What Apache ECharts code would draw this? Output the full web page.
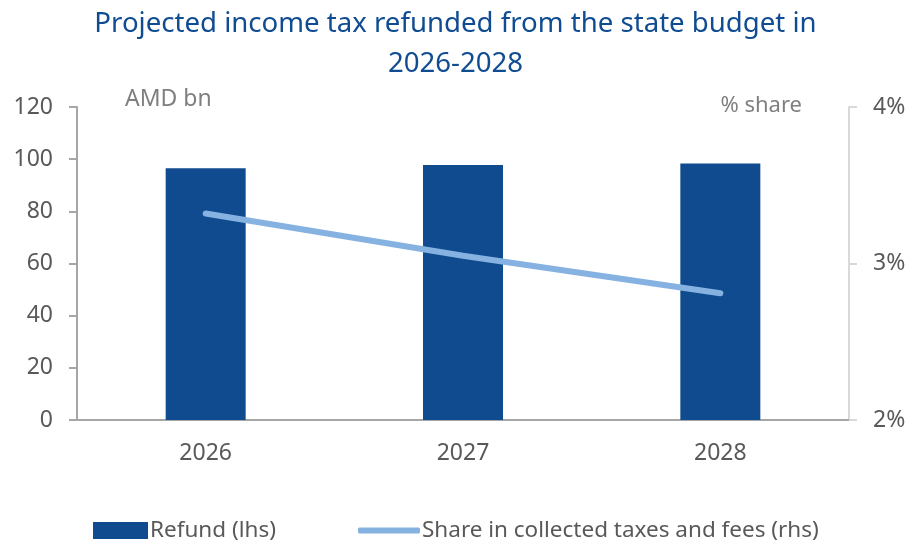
<!DOCTYPE html>
<html><head><meta charset="utf-8">
<script src="https://cdn.jsdelivr.net/npm/echarts@6/dist/echarts.min.js"></script>
<style>html,body{margin:0;padding:0;background:#fff}#c{width:911px;height:544px}</style>
</head><body><div id="c"></div>
<script>
const categories = ['2026', '2027', '2028'];
const refund = [96.5, 97.8, 98.3];
const share = [3.32, 3.05, 2.81];
const leftTicks = [0, 20, 40, 60, 80, 100, 120];
const rightTicks = ['2%', '3%', '4%'];
const titleLines = ['Projected income tax refunded from the state budget in', '2026-2028'];

const FONT = 'Noto Sans';
const GRAY = '#595959';
const TITLE_STYLE = { fontFamily: FONT, fontSize: 27.6, fontWeight: 'normal', color: '#104C92' };
const chart = echarts.init(document.getElementById('c'));
chart.setOption({
  animation: false,
  title: [
    { text: titleLines[0], left: 'center', top: 5, textStyle: TITLE_STYLE },
    { text: titleLines[1], left: 'center', top: 45, textStyle: TITLE_STYLE }
  ],
  legend: [
    { data: [{ name: 'Refund (lhs)', icon: 'rect' }], left: 88, top: 514, itemWidth: 55, itemHeight: 17, itemGap: 0,
      textStyle: { fontFamily: FONT, fontSize: 22.5, color: GRAY, padding: [0, 0, 0, -3] } },
    { data: [{ name: 'Share in collected taxes and fees (rhs)', icon: 'roundRect' }], left: 353, top: 514, itemWidth: 62, itemHeight: 6,
      textStyle: { fontFamily: FONT, fontSize: 22.5, color: GRAY, padding: [0, 0, 0, -3] } }
  ],
  grid: { left: 77, right: 62, top: 107, bottom: 124, containLabel: false },
  xAxis: {
    type: 'category', data: categories,
    axisLine: { lineStyle: { color: '#A6A6A6', width: 2 } },
    axisTick: { show: false },
    axisLabel: { fontFamily: FONT, fontSize: 23, color: GRAY, margin: 22 }
  },
  yAxis: [
    { type: 'value', min: 0, max: 120, interval: 20, name: 'AMD bn', nameLocation: 'end', nameGap: 0,
      nameTextStyle: { fontFamily: FONT, fontSize: 23, color: '#7F7F7F', align: 'left', padding: [0, 0, -4, 48], verticalAlign: 'bottom' },
      axisLine: { show: true, lineStyle: { color: '#A6A6A6', width: 2 } },
      axisTick: { show: true, length: 8, lineStyle: { color: '#A6A6A6', width: 2 } },
      splitLine: { show: false },
      axisLabel: { fontFamily: FONT, fontSize: 23, color: GRAY, margin: 24,
        formatter: v => leftTicks.includes(v) ? String(v) : '' } },
    { type: 'value', min: 2, max: 4, interval: 1, position: 'right', name: '% share', nameLocation: 'end', nameGap: 0,
      nameTextStyle: { fontFamily: FONT, fontSize: 22, color: '#7F7F7F', align: 'right', padding: [0, 47, -10, 0], verticalAlign: 'bottom' },
      axisLine: { show: true, lineStyle: { color: '#D9D9D9', width: 2 } },
      axisTick: { show: true, length: 8, lineStyle: { color: '#D9D9D9', width: 2 } },
      splitLine: { show: false },
      axisLabel: { fontFamily: FONT, fontSize: 23, color: GRAY, margin: 24,
        formatter: v => rightTicks[Math.round(v) - 2] } }
  ],
  series: [
    { name: 'Refund (lhs)', type: 'bar', data: refund, barWidth: 80, yAxisIndex: 0,
      itemStyle: { color: '#114B8F' } },
    { name: 'Share in collected taxes and fees (rhs)', type: 'line', data: share, yAxisIndex: 1,
      symbol: 'none', lineStyle: { color: '#86B2E2', width: 6, cap: 'round' }, itemStyle: { color: '#86B2E2' } }
  ]
});
</script></body></html>
